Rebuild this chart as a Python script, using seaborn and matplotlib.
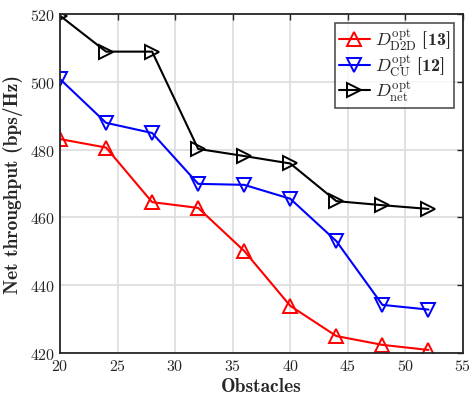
import matplotlib
matplotlib.use("Agg")
import matplotlib.pyplot as plt
import seaborn as sns
import pandas as pd

obstacles = [20, 24, 28, 32, 36, 40, 44, 48, 52]
d2d = [483.1, 480.6, 464.5, 462.8, 450.1, 433.9, 425.0, 422.4, 420.9]
cu = [500.8, 487.9, 484.9, 469.9, 469.6, 465.5, 453.0, 434.2, 432.8]
net = [519.5, 508.9, 508.9, 480.2, 478.1, 475.9, 464.8, 463.6, 462.5]
labels = [r"$D^{\rm opt}_{\rm D2D}\ \mathbf{[13]}$",
          r"$D^{\rm opt}_{\rm CU}\ \mathbf{[12]}$",
          r"$D^{\rm opt}_{\rm net}$"]
colors = ["#ff0000", "#0000ff", "#000000"]
markers = ["^", "v", ">"]

sns.set_theme(style="white")
plt.rcParams["font.family"] = ["cmr10", "DejaVu Serif"]
plt.rcParams["mathtext.fontset"] = "custom"
plt.rcParams["mathtext.rm"] = "cmr10"
plt.rcParams["mathtext.it"] = "cmmi10"
plt.rcParams["mathtext.bf"] = "cmb10"
plt.rcParams["mathtext.cal"] = "cmsy10"
plt.rcParams["axes.formatter.use_mathtext"] = True
plt.rcParams["axes.unicode_minus"] = False

fig = plt.figure(figsize=(4.7, 4.02), dpi=100)
ax = fig.add_axes([60/470, 1-354/402, (463-60)/470, (354-15)/402])

for vals, lab, c, m in zip([d2d, cu, net], labels, colors, markers):
    df = pd.DataFrame({"x": obstacles, "y": vals})
    sns.lineplot(data=df, x="x", y="y", ax=ax, color=c, marker=m, markersize=10,
                 markerfacecolor="none", markeredgecolor=c, markeredgewidth=1.4,
                 linewidth=1.5, label=lab)

ax.set_xlim(20, 55)
ax.set_ylim(420, 520)
ax.set_xticks(range(20, 56, 5))
ax.set_yticks(range(420, 521, 20))
ax.grid(True, color="#dedede", linewidth=1.3)
ax.set_axisbelow(True)
for s in ax.spines.values():
    s.set_color("#262626")
    s.set_linewidth(1.3)
ax.tick_params(direction="in", length=4, width=1.0, colors="#262626",
               labelsize=11.5, top=True, right=True, labelcolor="#262626")
for t in ax.get_xticklabels() + ax.get_yticklabels():
    t.set_fontfamily("cmr10")
ax.set_xlabel("Obstacles", fontsize=14, fontfamily="cmb10", color="#262626", labelpad=3)
ax.set_ylabel("Net throughput (bps/Hz)", fontsize=14, fontfamily="cmb10", color="#262626", labelpad=5)

leg = ax.legend(loc="upper right", fontsize=13, frameon=True, fancybox=False,
                edgecolor="#262626", borderpad=0.2, labelspacing=0.0,
                handlelength=1.7, handletextpad=0.3, borderaxespad=0.5)
leg.get_frame().set_linewidth(1.2)

fig.savefig("out.png", dpi=100)
